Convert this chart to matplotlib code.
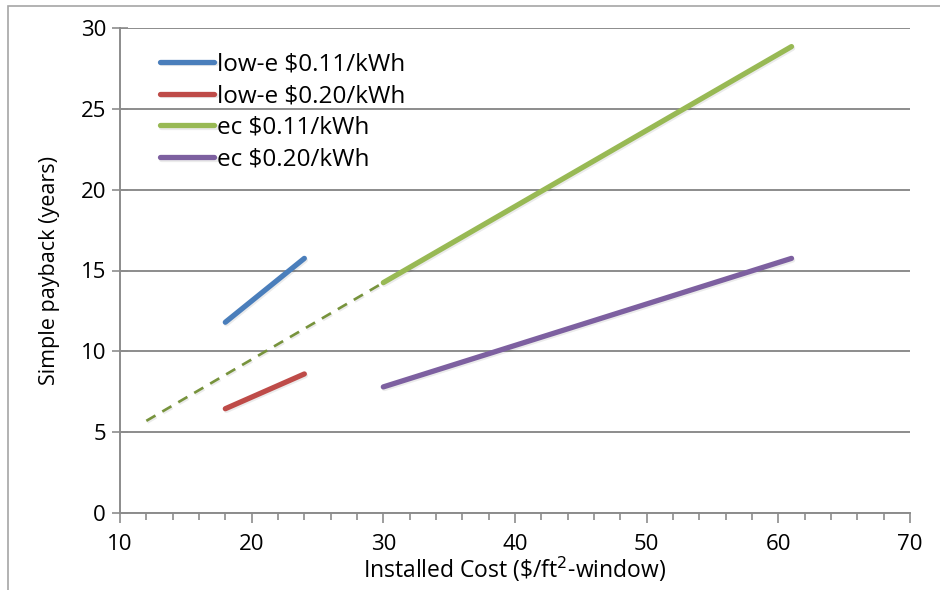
#Grafica de periodo de recuperacion simple vs costo instalado
import matplotlib
matplotlib.use('Agg')
from matplotlib import pyplot as plt
from matplotlib.patches import Rectangle
import matplotlib.patheffects as pe

plt.rcParams['font.family'] = ['Open Sans', 'DejaVu Sans']

#Datos
lowe_x = [18, 24]
lowe_011 = [11.8, 15.75]
lowe_020 = [6.45, 8.6]
ec_x = [30, 61]
ec_011 = [14.25, 28.85]
ec_020 = [7.8, 15.75]
ext_x = [12, 30]
ext_011 = [5.7, 14.25]

labels = [r'low-e \$0.11/kWh', r'low-e \$0.20/kWh', r'ec \$0.11/kWh', r'ec \$0.20/kWh']
colores = ['#4a7ebb', '#be4b48', '#98b954', '#7d60a0']

fig = plt.figure(figsize=(9.4, 5.9), dpi=100)
ax = fig.add_axes([120/940, 1-513/590, 790/940, 485/590])

sombra = [pe.SimpleLineShadow(offset=(0.8, -1.2), alpha=0.08, shadow_color='k'), pe.Normal()]

ax.plot(ext_x, ext_011, color='#77933c', lw=1.9, ls=(0, (4, 3)), path_effects=sombra)
series = [(lowe_x, lowe_011), (lowe_x, lowe_020), (ec_x, ec_011), (ec_x, ec_020)]
for (xs, ys), lab, c in zip(series, labels, colores):
    ax.plot(xs, ys, color=c, lw=3.8, solid_capstyle='round', label=lab, path_effects=sombra)

ax.set_xlim(10, 70)
ax.set_ylim(0, 30)
ax.set_xticks(range(10, 71, 10))
ax.set_xticks(range(10, 71, 2), minor=True)
ax.set_yticks(range(0, 31, 5))
ax.yaxis.grid(True, color='#8c8c8c', lw=1.4)
ax.set_axisbelow(True)
for s in ['top', 'right']:
    ax.spines[s].set_visible(False)
for s in ['left', 'bottom']:
    ax.spines[s].set_color('#8c8c8c')
    ax.spines[s].set_linewidth(1.4)
ax.tick_params(axis='both', which='major', length=7, width=1.2, color='#8c8c8c',
               labelsize=16, direction='out', pad=6)
ax.tick_params(axis='x', which='minor', length=5, width=1.2, color='#8c8c8c', direction='out')
ax.tick_params(axis='y', which='major', direction='inout', length=12, pad=4)
ax.tick_params(axis='x', which='major', direction='out', length=7, pad=8)

ax.set_xlabel(r'Installed Cost (\$/ft$^{2}$-window)', fontsize=16.5, labelpad=0)
ax.set_ylabel('Simple payback (years)', fontsize=15.5, labelpad=15)

ax.legend(loc='upper left', bbox_to_anchor=(0.05, 0.95), frameon=False, fontsize=17.5,
          handlelength=2.26, handletextpad=0.12, labelspacing=0.32, borderaxespad=0,
          borderpad=0)

#Borde exterior de la figura
fig.patches.append(Rectangle((8/940, -0.1), 1.1, 1.1 - 6/590, transform=fig.transFigure,
                             fill=False, edgecolor='#a6a6a6', lw=1.2))

plt.savefig('out.png', dpi=100)
